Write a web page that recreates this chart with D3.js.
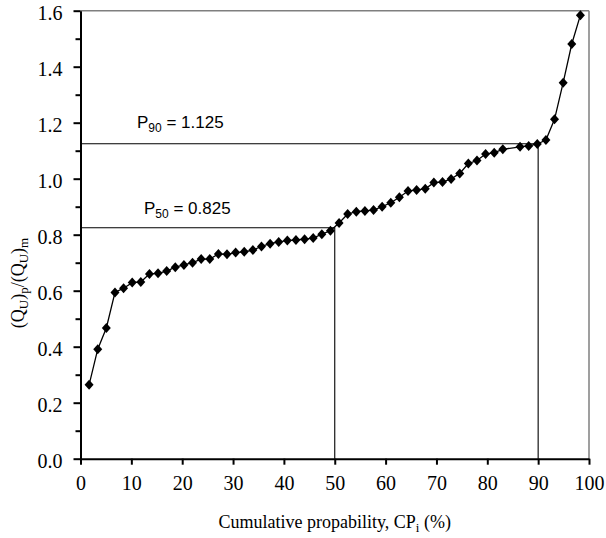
<!DOCTYPE html>
<html><head><meta charset="utf-8">
<script src="https://cdn.jsdelivr.net/npm/d3@7"></script>
<style>body{margin:0;background:#fff}svg{display:block}
.serif{font-family:"Liberation Serif","Times New Roman","DejaVu Serif",serif}
.sans{font-family:"Liberation Sans",Arial,sans-serif}
</style>
</head><body>
<script>
const cumProb = [1.69,3.39,5.08,6.78,8.47,10.17,11.86,13.56,15.25,16.95,18.64,20.34,22.03,23.73,25.42,27.12,28.81,30.51,32.20,33.90,35.59,37.29,38.98,40.68,42.37,44.07,45.76,47.46,49.15,50.85,52.54,54.24,55.93,57.63,59.32,61.02,62.71,64.41,66.10,67.80,69.49,71.19,72.88,74.58,76.27,77.97,79.66,81.36,83.05,86.44,88.14,89.83,91.53,93.22,94.92,96.61,98.31];
const ratio = [0.264,0.391,0.467,0.594,0.609,0.629,0.631,0.660,0.662,0.670,0.684,0.692,0.700,0.713,0.713,0.731,0.730,0.736,0.739,0.745,0.758,0.768,0.774,0.779,0.781,0.784,0.788,0.802,0.814,0.842,0.874,0.882,0.885,0.888,0.900,0.914,0.934,0.956,0.960,0.964,0.986,0.988,0.999,1.019,1.054,1.065,1.088,1.093,1.105,1.114,1.117,1.124,1.138,1.212,1.343,1.481,1.584];
const xTicks = [0,10,20,30,40,50,60,70,80,90,100];
const yTicks = [0,0.2,0.4,0.6,0.8,1.0,1.2,1.4,1.6];
const yMinorTicks = [0.1,0.3,0.5,0.7,0.9,1.1,1.3,1.5];
const percentiles = [{name:"50", p:50, v:0.825, label:"0.825"},{name:"90", p:90, v:1.125, label:"1.125"}];

const W=606,H=538;
const svg=d3.select("body").append("svg").attr("width",W).attr("height",H);
const x=d3.scaleLinear().domain([0,100]).range([80.5,589]);
const y=d3.scaleLinear().domain([0,1.6]).range([458.7,10.7]);

// frame top/right
svg.append("line").attr("x1",x(0)).attr("x2",x(100)).attr("y1",y(1.6)).attr("y2",y(1.6)).attr("stroke","#7f7f7f").attr("stroke-width",1.5);
svg.append("line").attr("x1",x(100)).attr("x2",x(100)).attr("y1",y(1.6)).attr("y2",y(0)).attr("stroke","#7f7f7f").attr("stroke-width",1.5);

// percentile lines
percentiles.forEach(d=>{
  svg.append("path").attr("d",`M${x(0)},${y(d.v)}H${x(d.p)}V${y(0)}`).attr("fill","none").attr("stroke","#000").attr("stroke-width",1.1);
});

// axes
const xAxis=svg.append("g").attr("transform",`translate(0,${y(0)})`)
  .call(d3.axisBottom(x).tickValues(xTicks).tickFormat(d3.format("d")).tickSizeInner(6).tickSizeOuter(0).tickPadding(7));
const yAxisMinor=svg.append("g").attr("transform",`translate(${x(0)},0)`)
  .call(d3.axisLeft(y).tickValues(yMinorTicks).tickFormat("").tickSizeInner(5).tickSizeOuter(0));
const yAxis=svg.append("g").attr("transform",`translate(${x(0)},0)`)
  .call(d3.axisLeft(y).tickValues(yTicks).tickFormat(d3.format(".1f")).tickSizeInner(7).tickSizeOuter(0).tickPadding(11));
[xAxis,yAxis,yAxisMinor].forEach(g=>{
  g.attr("font-family",null).attr("font-size",null);
  g.select(".domain").attr("stroke","#000").attr("stroke-width",2);
  g.selectAll(".tick line").attr("stroke","#000").attr("stroke-width",2);
  g.selectAll("text").attr("class","serif").style("font-size","20px").attr("fill","#000");
});
yAxisMinor.select(".domain").remove();
xAxis.selectAll("text").attr("dy","0.9em");
yAxis.selectAll("text").attr("dy","0.44em");

// data line
const pts=cumProb.map((c,i)=>[c,ratio[i]]);
svg.append("path").datum(pts).attr("d",d3.line().x(d=>x(d[0])).y(d=>y(d[1])))
  .attr("fill","none").attr("stroke","#000").attr("stroke-width",1.3);
svg.append("g").selectAll("path").data(pts).join("path")
  .attr("transform",d=>`translate(${x(d[0])},${y(d[1])})`)
  .attr("d","M0,-5L4.5,0L0,5L-4.5,0Z").attr("fill","#000");

// percentile labels
const labelPos={"90":[137,127.5],"50":[144,213.5]};
percentiles.forEach(d=>{
  const t=svg.append("text").attr("class","sans").attr("x",labelPos[d.name][0]).attr("y",labelPos[d.name][1])
    .style("font-size","17px").attr("fill","#000");
  t.append("tspan").text("P");
  t.append("tspan").style("font-size","12px").attr("dy",4).text(d.name);
  t.append("tspan").attr("dy",-4).text(" = "+d.label);
});

// x title
const xt=svg.append("text").attr("class","serif").attr("x",(x(0)+x(100))/2).attr("y",528).attr("text-anchor","middle")
  .style("font-size","18px").attr("fill","#000");
xt.append("tspan").text("Cumulative propability, CP");
xt.append("tspan").style("font-size","13px").attr("dy",4).text("i");
xt.append("tspan").attr("dy",-4).text(" (%)");

// y title
const yt=svg.append("text").attr("class","serif").attr("transform","translate(24,283) rotate(-90)").attr("text-anchor","middle")
  .style("font-size","18px").attr("fill","#000");
yt.append("tspan").text("(Q");
yt.append("tspan").style("font-size","13px").attr("dy",4).text("U");
yt.append("tspan").attr("dy",-4).text(")");
yt.append("tspan").style("font-size","13px").attr("dy",4).text("p");
yt.append("tspan").attr("dy",-4).text("/(Q");
yt.append("tspan").style("font-size","13px").attr("dy",4).text("U");
yt.append("tspan").attr("dy",-4).text(")");
yt.append("tspan").style("font-size","13px").attr("dy",4).text("m");
</script>
</body></html>
